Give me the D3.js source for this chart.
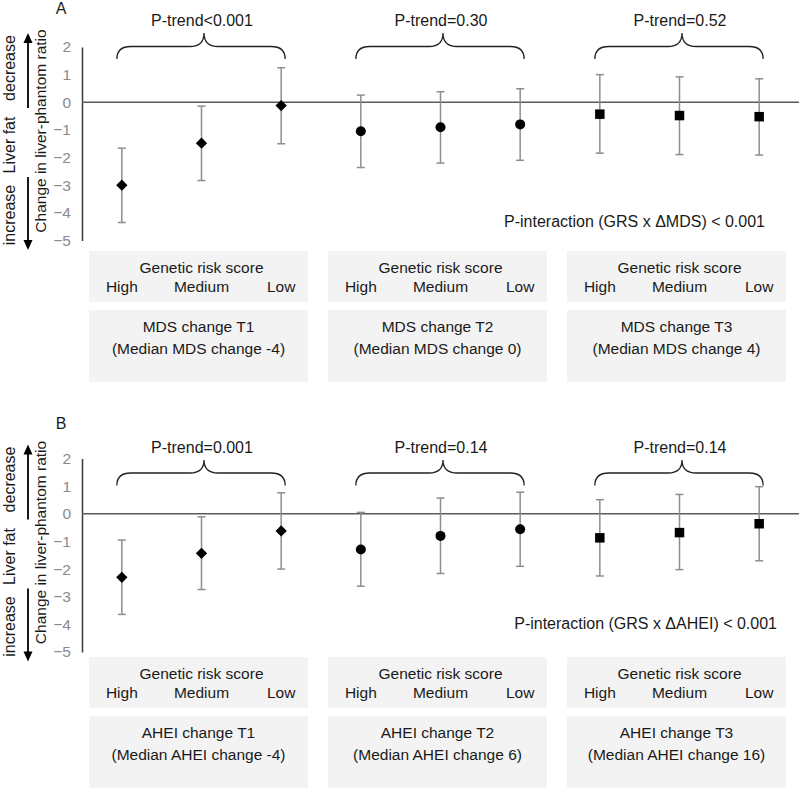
<!DOCTYPE html>
<html>
<head>
<meta charset="utf-8">
<script src="https://cdn.jsdelivr.net/npm/d3@7"></script>
<style>
  html, body { margin: 0; padding: 0; background: #fff; }
  svg { display: block; font-family: "Liberation Sans", Arial, sans-serif; }
</style>
</head>
<body>
<svg id="chart" width="800" height="789"></svg>
<script>
// ---------- DATA ----------
const grsLevels = ["High", "Medium", "Low"];
const tertiles = ["T1", "T2", "T3"];
const yTicks = [-5, -4, -3, -2, -1, 0, 1, 2];

const panelALabel = "A";
const panelAGroupTitles = ["MDS change T1", "MDS change T2", "MDS change T3"];
const panelAGroupSubs = ["(Median MDS change -4)", "(Median MDS change 0)", "(Median MDS change 4)"];
const panelATrends = ["P-trend<0.001", "P-trend=0.30", "P-trend=0.52"];
const panelAInteraction = "P-interaction (GRS x \u0394MDS) < 0.001";
const panelAEst = [-3.00, -1.48, -0.12, -1.05, -0.90, -0.80, -0.43, -0.48, -0.52];
const panelALow = [-4.35, -2.83, -1.50, -2.36, -2.20, -2.10, -1.84, -1.89, -1.91];
const panelAHigh = [-1.66, -0.14, 1.25, 0.26, 0.38, 0.49, 1.00, 0.92, 0.85];

const panelBLabel = "B";
const panelBGroupTitles = ["AHEI change T1", "AHEI change T2", "AHEI change T3"];
const panelBGroupSubs = ["(Median AHEI change -4)", "(Median AHEI change 6)", "(Median AHEI change 16)"];
const panelBTrends = ["P-trend=0.001", "P-trend=0.14", "P-trend=0.14"];
const panelBInteraction = "P-interaction (GRS x \u0394AHEI) < 0.001";
const panelBEst = [-2.30, -1.43, -0.62, -1.29, -0.80, -0.56, -0.87, -0.68, -0.36];
const panelBLow = [-3.64, -2.74, -2.00, -2.62, -2.16, -1.90, -2.25, -2.02, -1.70];
const panelBHigh = [-0.95, -0.11, 0.76, 0.05, 0.57, 0.78, 0.51, 0.70, 0.98];

const yTitle = "Change in liver-phantom ratio";
const sideTop = "decrease", sideMid = "Liver fat", sideBottom = "increase";
const grsTitle = "Genetic risk score";

// ---------- LAYOUT ----------
const svg = d3.select("#chart");
const X0 = 82, X1 = 799;
const categories = [];
tertiles.forEach(t => grsLevels.forEach(g => categories.push(t + "-" + g)));
const x = d3.scaleBand().domain(categories).range([X0, X1]);
const xg = d3.scaleBand().domain(tertiles).range([X0, X1]);
const cx = i => x(categories[i]) + x.bandwidth() / 2;

const panels = [
  { label: panelALabel, titles: panelAGroupTitles, subs: panelAGroupSubs, trends: panelATrends,
    inter: panelAInteraction, est: panelAEst, lo: panelALow, hi: panelAHigh,
    yRange: [240.5, 47], off: 0, labelY: 8, trendY: 20, tipY: 33, braceY: 46.5, endY: 59, interY: 221,
    interX: 765, boxOff: 0 },
  { label: panelBLabel, titles: panelBGroupTitles, subs: panelBGroupSubs, trends: panelBTrends,
    inter: panelBInteraction, est: panelBEst, lo: panelBLow, hi: panelBHigh,
    yRange: [652, 458.5], off: 411.5, labelY: 423, trendY: 447, tipY: 460, braceY: 473, endY: 485.5, interY: 623,
    interX: 777, boxOff: 406 }
];

const TEXT = "#1a1a1a";

panels.forEach(p => {
  const g = svg.append("g");
  const y = d3.scaleLinear().domain([-5, 2]).range(p.yRange);

  // panel letter
  g.append("text").attr("x", 61).attr("y", p.labelY).attr("dy", "0.35em")
    .attr("text-anchor", "middle").attr("font-size", 16).attr("fill", TEXT).text(p.label);

  // boxes
  tertiles.forEach((t, k) => {
    const bx = xg(t) + 7, bw = 219;
    g.append("rect").attr("x", bx).attr("y", 251 + p.boxOff).attr("width", bw).attr("height", 51)
      .attr("fill", "#f3f3f3");
    g.append("rect").attr("x", bx).attr("y", 310 + p.boxOff).attr("width", bw).attr("height", 72)
      .attr("fill", "#f3f3f3");
    g.append("text").attr("x", cx(k * 3 + 1)).attr("y", 268 + p.boxOff).attr("dy", "0.35em")
      .attr("text-anchor", "middle").attr("font-size", 15.5).attr("fill", TEXT).text(grsTitle);
    grsLevels.forEach((lv, j) => {
      g.append("text").attr("x", cx(k * 3 + j)).attr("y", 287 + p.boxOff).attr("dy", "0.35em")
        .attr("text-anchor", "middle").attr("font-size", 15.5).attr("fill", TEXT).text(lv);
    });
    g.append("text").attr("x", bx + bw / 2).attr("y", 327 + p.boxOff).attr("dy", "0.35em")
      .attr("text-anchor", "middle").attr("font-size", 15.5).attr("fill", TEXT).text(p.titles[k]);
    g.append("text").attr("x", bx + bw / 2).attr("y", 349 + p.boxOff).attr("dy", "0.35em")
      .attr("text-anchor", "middle").attr("font-size", 15.5).attr("fill", TEXT).text(p.subs[k]);

    // brace
    const L = cx(k * 3) - 5, R = cx(k * 3 + 2) + 4, M = (L + R) / 2 + 3, r = 14;
    const path = d3.path();
    path.moveTo(L, p.endY);
    path.quadraticCurveTo(L, p.braceY, L + r, p.braceY);
    path.lineTo(M - r, p.braceY);
    path.quadraticCurveTo(M, p.braceY, M, p.tipY);
    path.quadraticCurveTo(M, p.braceY, M + r, p.braceY);
    path.lineTo(R - r, p.braceY);
    path.quadraticCurveTo(R, p.braceY, R, p.endY);
    g.append("path").attr("d", path.toString()).attr("fill", "none")
      .attr("stroke", "#222").attr("stroke-width", 1.3);
    g.append("text").attr("x", M - 2).attr("y", p.trendY).attr("dy", "0.35em")
      .attr("text-anchor", "middle").attr("font-size", 16).attr("fill", TEXT).text(p.trends[k]);
  });

  // axis
  const axis = d3.axisLeft(y).tickValues(yTicks).tickSize(0).tickSizeOuter(0).tickPadding(11)
    .tickFormat(d3.format("d"));
  const ag = g.append("g").attr("transform", `translate(${X0},0)`).call(axis);
  ag.select(".domain").attr("stroke", "#3a3a3a").attr("stroke-width", 1.5);
  ag.selectAll("text").attr("font-size", 15.5).attr("fill", "#8a8a8a")
    .attr("font-family", '"Liberation Sans", Arial, sans-serif');

  // zero line
  g.append("line").attr("x1", X0).attr("x2", X1).attr("y1", y(0)).attr("y2", y(0))
    .attr("stroke", "#5a5a5a").attr("stroke-width", 1.5);

  // error bars
  const idx = d3.range(categories.length);
  const eb = g.append("g").attr("stroke", "#8e8e8e").attr("stroke-width", 1.5);
  idx.forEach(i => {
    eb.append("line").attr("x1", cx(i)).attr("x2", cx(i)).attr("y1", y(p.hi[i])).attr("y2", y(p.lo[i]));
    eb.append("line").attr("x1", cx(i) - 4).attr("x2", cx(i) + 4).attr("y1", y(p.hi[i])).attr("y2", y(p.hi[i]));
    eb.append("line").attr("x1", cx(i) - 4).attr("x2", cx(i) + 4).attr("y1", y(p.lo[i])).attr("y2", y(p.lo[i]));
  });

  // markers
  idx.forEach(i => {
    const grp = Math.floor(i / 3);
    let sym, rot = 0;
    if (grp === 0) { sym = d3.symbol(d3.symbolSquare, 64); rot = 45; }
    else if (grp === 1) { sym = d3.symbol(d3.symbolCircle, Math.PI * 25); }
    else { sym = d3.symbol(d3.symbolSquare, 90); }
    g.append("path").attr("d", sym())
      .attr("transform", `translate(${cx(i)},${y(p.est[i])}) rotate(${rot})`)
      .attr("fill", "#000");
  });

  // interaction
  g.append("text").attr("x", p.interX).attr("y", p.interY).attr("dy", "0.35em")
    .attr("text-anchor", "end").attr("font-size", 16).attr("fill", TEXT).text(p.inter);

  // y-title and side labels
  const off = p.off;
  g.append("text").attr("transform", `translate(41,${131 + off}) rotate(-90)`).attr("dy", "0.35em")
    .attr("text-anchor", "middle").attr("font-size", 15.5).attr("fill", TEXT).text(yTitle);
  g.append("text").attr("transform", `translate(9,${68 + off}) rotate(-90)`).attr("dy", "0.35em")
    .attr("text-anchor", "middle").attr("font-size", 16).attr("fill", TEXT).text(sideTop);
  g.append("text").attr("transform", `translate(9,${145 + off}) rotate(-90)`).attr("dy", "0.35em")
    .attr("text-anchor", "middle").attr("font-size", 16).attr("fill", TEXT).text(sideMid);
  g.append("text").attr("transform", `translate(9,${215 + off}) rotate(-90)`).attr("dy", "0.35em")
    .attr("text-anchor", "middle").attr("font-size", 16).attr("fill", TEXT).text(sideBottom);

  // arrows
  g.append("line").attr("x1", 28).attr("x2", 28).attr("y1", 108 + off).attr("y2", 42 + off)
    .attr("stroke", "#000").attr("stroke-width", 1.8);
  g.append("path").attr("d", `M${28},${33 + off} L${23.5},${43 + off} L${32.5},${43 + off} Z`).attr("fill", "#000");
  g.append("line").attr("x1", 28).attr("x2", 28).attr("y1", 177 + off).attr("y2", 241 + off)
    .attr("stroke", "#000").attr("stroke-width", 1.8);
  g.append("path").attr("d", `M${28},${250 + off} L${23.5},${240 + off} L${32.5},${240 + off} Z`).attr("fill", "#000");
});
</script>
</body>
</html>
